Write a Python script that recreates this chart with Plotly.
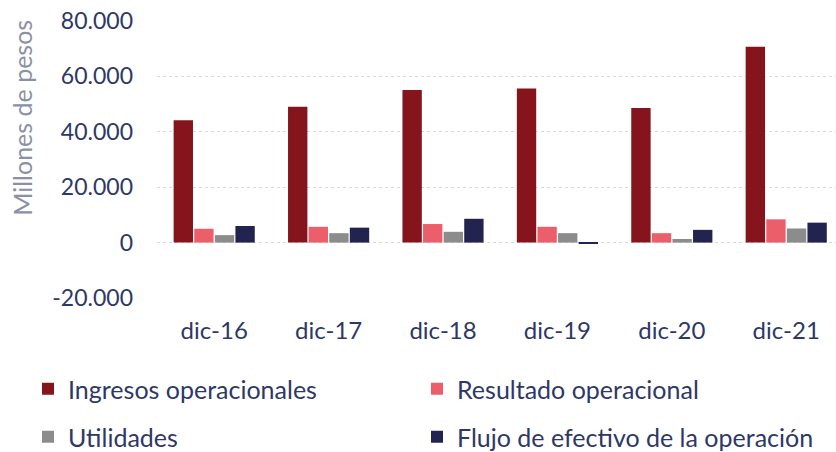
import plotly.graph_objects as go

categories = ["dic-16", "dic-17", "dic-18", "dic-19", "dic-20", "dic-21"]
ingresos = [44200, 49000, 55100, 55600, 48600, 70700]
resultado = [5000, 5700, 6700, 5700, 3400, 8400]
utilidades = [2700, 3400, 3900, 3400, 1300, 5100]
flujo = [6000, 5400, 8600, -300, 4600, 7200]
y_ticks = [-20000, 0, 20000, 40000, 60000, 80000]
y_tick_labels = ["-20.000", "0", "20.000", "40.000", "60.000", "80.000"]

FONT = "Lato"
TEXT = "#2E3866"
W, H = 836, 452

fig = go.Figure()
series = [
    ("Ingresos operacionales", ingresos, "#85141D", "legend"),
    ("Resultado operacional", resultado, "#EC5F6A", "legend2"),
    ("Utilidades", utilidades, "#8C8C8C", "legend3"),
    ("Flujo de efectivo de la operación", flujo, "#23234F", "legend4"),
]
for name, vals, color, leg in series:
    fig.add_trace(go.Bar(x=categories, y=vals, name=name, marker_color=color,
                         marker_line_width=0, legend=leg))

def leg(x, y):
    return dict(orientation="h", xref="container", yref="container",
                x=x / W, y=1 - y / H, xanchor="left", yanchor="middle",
                font=dict(size=25, color=TEXT, family=FONT), bgcolor="rgba(0,0,0,0)")

n = len(categories)
fig.update_layout(
    width=W, height=H,
    margin=dict(l=157, r=0, t=21, b=154, autoexpand=False),
    paper_bgcolor="white", plot_bgcolor="white",
    font=dict(family=FONT, color=TEXT, size=23),
    barmode="group", bargap=0.28, bargroupgap=0.06,
    showlegend=True,
    xaxis=dict(range=[-0.5, n - 0.565], showline=False, ticks="", showgrid=False,
               zeroline=False, ticklabelstandoff=16,
               tickfont=dict(size=24, color=TEXT, family=FONT)),
    xaxis2=dict(overlaying="x", anchor="free", position=0.2, type="linear",
                range=[-0.5, n - 0.565], showline=True, linecolor="#A3A6B8", linewidth=1.5,
                ticks="outside", ticklen=8, tickwidth=1.5, tickcolor="#A3A6B8",
                tickmode="array", tickvals=[i - 0.5 for i in range(n + 1)],
                showticklabels=False, showgrid=False, zeroline=False),
    yaxis=dict(range=[-20000, 80000], tickmode="array", tickvals=y_ticks,
               ticktext=y_tick_labels, showgrid=True, gridcolor="#D9D9D9",
               griddash="dot", gridwidth=1, zeroline=False, showline=False,
               ticks="", ticklabelstandoff=23, ticklabeloverflow="allow",
               tickfont=dict(size=23, color=TEXT, family=FONT)),
    legend=leg(28, 389),
    legend2=leg(417, 389),
    legend3=leg(28, 437),
    legend4=leg(417, 437),
    annotations=[dict(text="Millones de pesos", textangle=-90, xref="paper", yref="paper",
                      x=-0.199, y=0.65, xanchor="center", yanchor="middle", showarrow=False,
                      font=dict(size=25, color="#8A90A6", family=FONT))],
)

fig.write_html("out.html", config={"displayModeBar": False},
               post_script="document.body.style.margin='0';")
